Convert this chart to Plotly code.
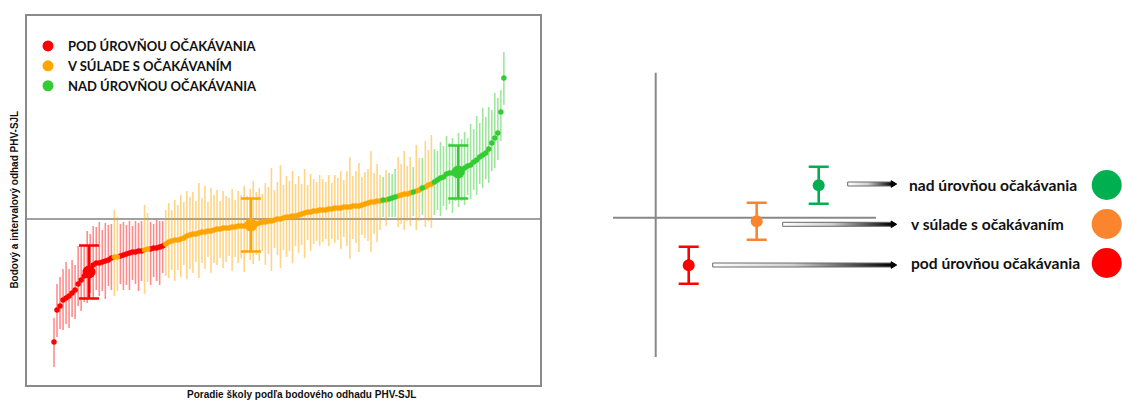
import plotly.graph_objects as go

# ---------------- data (left caterpillar chart) ----------------
rank = list(range(1, 151))
estimate = [
    -12.3, -9.1, -8.7, -8.1, -7.9, -7.7, -7.4, -7.1, -6.5, -6.1,
    -5.7, -5.4, -5.0, -4.6, -4.4, -4.4, -4.3, -4.2, -4.1, -3.9,
    -3.8, -3.8, -3.7, -3.6, -3.5, -3.4, -3.3, -3.3, -3.2, -3.2,
    -3.1, -3.0, -3.0, -2.9, -2.9, -2.8, -2.7, -2.5, -2.3, -2.2,
    -2.1, -2.1, -2.0, -1.9, -1.7, -1.6, -1.5, -1.5, -1.4, -1.3,
    -1.3, -1.2, -1.2, -1.1, -1.0, -1.0, -0.9, -0.9, -0.9, -0.8,
    -0.8, -0.7, -0.7, -0.7, -0.6, -0.6, -0.5, -0.5, -0.4, -0.3,
    -0.3, -0.2, -0.2, -0.1, 0.0, 0.0, 0.1, 0.2, 0.2, 0.3,
    0.3, 0.4, 0.5, 0.6, 0.7, 0.7, 0.8, 0.8, 0.9, 0.9,
    0.9, 1.0, 1.0, 1.1, 1.1, 1.1, 1.2, 1.2, 1.2, 1.3,
    1.3, 1.3, 1.4, 1.5, 1.6, 1.7, 1.7, 1.8, 1.8, 1.9,
    1.9, 2.0, 2.1, 2.2, 2.3, 2.4, 2.5, 2.5, 2.6, 2.7,
    2.8, 2.9, 3.1, 3.2, 3.4, 3.5, 3.7, 3.9, 4.1, 4.2,
    4.5, 4.6, 4.6, 4.6, 4.7, 4.8, 5.1, 5.3, 5.4, 5.7,
    5.9, 6.2, 6.4, 6.6, 7.0, 7.6, 8.1, 8.6, 10.7, 14.1,
]
err_up = [
    2.4, 2.6, 2.9, 3.1, 3.6, 2.7, 3.3, 2.5, 3.8, 3.4,
    3.1, 4.2, 3.5, 3.9, 3.6, 4.1, 3.2, 3.8, 3.5, 3.4,
    4.7, 4.0, 3.2, 3.3, 2.9, 3.2, 2.6, 3.1, 2.8, 3.0,
    4.5, 3.6, 2.7, 2.4, 2.8, 2.6, 2.5, 3.4, 3.9, 3.1,
    4.0, 3.5, 4.4, 3.6, 4.5, 3.8, 4.2, 3.3, 5.0, 3.4,
    4.6, 2.9, 4.3, 3.5, 3.9, 2.8, 3.7, 3.2, 3.0, 3.8,
    2.7, 3.5, 3.1, 4.0, 2.9, 3.6, 4.3, 3.2, 3.5, 2.8,
    3.9, 3.4, 5.3, 3.0, 3.7, 5.4, 3.3, 4.1, 3.6, 4.5,
    3.2, 3.9, 3.0, 4.4, 2.7, 3.8, 3.2, 2.9, 3.5, 3.1,
    2.8, 3.4, 2.6, 3.3, 3.0, 3.7, 2.7, 3.6, 5.0, 3.0,
    3.5, 4.3, 2.8, 3.2, 3.4, 5.1, 2.9, 3.7, 2.6, 2.3,
    3.0, 2.6, 2.4, 2.8, 3.9, 3.1, 4.3, 2.8, 3.6, 2.5,
    4.6, 3.2, 3.0, 4.6, 3.5, 4.9, 3.3, 2.9, 3.6, 3.1,
    3.8, 3.0, 3.5, 2.7, 3.9, 3.2, 3.6, 2.8, 4.1, 3.3,
    4.4, 3.4, 4.7, 3.6, 4.2, 3.3, 4.5, 3.5, 2.2, 2.6,
]
err_down = [
    2.5, 2.7, 2.3, 3.0, 2.6, 3.2, 2.4, 2.9, 2.2, 3.1,
    2.6, 3.0, 2.4, 3.4, 2.7, 3.3, 2.9, 3.8, 2.6, 3.2,
    3.9, 3.4, 2.8, 3.5, 3.1, 3.7, 2.8, 3.2, 4.0, 3.0,
    4.4, 3.3, 3.6, 2.9, 3.3, 3.8, 2.7, 3.2, 3.6, 2.9,
    4.1, 3.0, 3.8, 2.7, 4.3, 3.4, 3.9, 2.8, 4.5, 3.1,
    3.7, 2.6, 4.2, 3.3, 3.6, 2.9, 4.0, 3.4, 2.8, 4.4,
    3.0, 3.7, 3.2, 4.6, 2.7, 3.5, 4.0, 3.1, 3.8, 2.9,
    4.3, 3.3, 5.0, 2.8, 3.6, 4.9, 3.2, 4.0, 3.4, 4.7,
    3.0, 3.8, 3.1, 4.5, 2.8, 3.9, 3.3, 3.0, 3.6, 3.2,
    2.9, 3.7, 3.0, 3.5, 3.2, 4.1, 3.0, 3.9, 5.2, 3.3,
    3.7, 4.6, 3.0, 3.4, 3.8, 5.0, 3.2, 4.1, 2.9, 1.7,
    2.6, 1.8, 1.9, 2.0, 3.1, 2.9, 3.6, 2.7, 3.3, 2.4,
    3.9, 3.1, 2.7, 4.0, 3.6, 4.4, 3.3, 3.0, 3.8, 2.9,
    3.6, 3.1, 4.0, 2.8, 3.5, 3.0, 3.7, 2.9, 3.4, 2.8,
    3.5, 2.7, 3.3, 2.6, 3.4, 2.8, 3.0, 2.7, 2.9, 2.7,
]

cat_names = ["POD ÚROVŇOU OČAKÁVANIA", "V SÚLADE S OČAKÁVANÍM", "NAD ÚROVŇOU OČAKÁVANIA"]
cat_colors = ["#FF0000", "#FFA500", "#33CC33"]
cat_bar_colors = ["rgba(255,0,0,0.45)", "rgba(255,165,0,0.48)", "rgba(51,204,51,0.48)"]

# large illustrative point + interval per category
example_rank = [12.6, 66.2, 134.9]
example_est = [-5.3, -0.6, 4.7]
example_err = [2.65, 2.65, 2.65]

# ---------------- data (right schematic) ----------------
scheme_labels = ["nad úrovňou očakávania", "v súlade s očakávaním", "pod úrovňou očakávania"]
scheme_colors = ["#00B050", "#FA852E", "#FF0000"]
scheme_x = [16.3, 10.1, 3.3]
scheme_y = [3.25, -0.36, -4.75]
scheme_err = [1.85, 1.85, 1.85]
arrow_start = [19.2, 12.7, 5.7]
arrow_end = 24.1
arrow_y = [3.37, -0.66, -4.73]
label_x = [25.1, 25.3, 25.3]
label_y = [3.27, -0.63, -4.53]
badge_x = 45.1

# ---------------- categorise ----------------
def category(e, u, d):
    if e + u < 0:
        return 0
    if e - d > 0:
        return 2
    return 1

cats = [category(e, u, d) for e, u, d in zip(estimate, err_up, err_down)]

fig = go.Figure()

# interval lines
for c in range(3):
    xs, ys = [], []
    for r, e, u, d, k in zip(rank, estimate, err_up, err_down, cats):
        if k == c:
            xs += [r, r, None]
            ys += [e - d, e + u, None]
    fig.add_trace(go.Scatter(x=xs, y=ys, mode="lines", line=dict(color=cat_bar_colors[c], width=1.6),
                             hoverinfo="skip", showlegend=False, xaxis="x", yaxis="y"))

# point estimates
for c in range(3):
    xs = [r for r, k in zip(rank, cats) if k == c]
    ys = [e for e, k in zip(estimate, cats) if k == c]
    fig.add_trace(go.Scatter(x=xs, y=ys, mode="markers", marker=dict(color=cat_colors[c], size=5.5),
                             showlegend=False, xaxis="x", yaxis="y"))

# example markers with error bars
for c in range(3):
    fig.add_trace(go.Scatter(x=[example_rank[c]], y=[example_est[c]], mode="markers",
                             marker=dict(color=cat_colors[c], size=13),
                             error_y=dict(type="data", array=[example_err[c]], color=cat_colors[c],
                                          thickness=2.6, width=10),
                             showlegend=False, xaxis="x", yaxis="y"))

# legend entries
for c in range(3):
    fig.add_trace(go.Scatter(x=[None], y=[None], mode="markers", name="<b>" + cat_names[c] + "</b>",
                             marker=dict(color=cat_colors[c], size=11), xaxis="x", yaxis="y"))

# ---------------- schematic ----------------
for i in range(3):
    fig.add_trace(go.Scatter(x=[scheme_x[i]], y=[scheme_y[i]], mode="markers",
                             marker=dict(color=scheme_colors[i], size=12),
                             error_y=dict(type="data", array=[scheme_err[i]], color=scheme_colors[i],
                                          thickness=2.6, width=10),
                             showlegend=False, xaxis="x2", yaxis="y2", cliponaxis=False))
    s, e, y = arrow_start[i], arrow_end, arrow_y[i]
    fig.add_trace(go.Scatter(x=[s, e - 0.45, e - 0.45, s, s], y=[y - 0.2, y - 0.2, y + 0.2, y + 0.2, y - 0.2],
                             mode="lines", fill="toself",
                             fillgradient=dict(type="horizontal",
                                               colorscale=[[0, "#ffffff"], [0.45, "#d0d0d0"], [1, "#000000"]]),
                             line=dict(color="#6a6a6a", width=1), showlegend=False, hoverinfo="skip",
                             xaxis="x2", yaxis="y2", cliponaxis=False))
    fig.add_trace(go.Scatter(x=[e - 0.55, e, e - 0.55, e - 0.55], y=[y + 0.33, y, y - 0.33, y + 0.33],
                             mode="lines", fill="toself", fillcolor="#000000",
                             line=dict(color="#000000", width=1), showlegend=False, hoverinfo="skip",
                             xaxis="x2", yaxis="y2", cliponaxis=False))
    fig.add_annotation(x=label_x[i], y=label_y[i], xref="x2", yref="y2", text="<b>" + scheme_labels[i] + "</b>",
                       showarrow=False, xanchor="left", yanchor="middle",
                       font=dict(family="Lato", size=15.6, color="#111111"))

fig.add_trace(go.Scatter(x=[badge_x] * 3, y=label_y, mode="markers",
                         marker=dict(color=scheme_colors, size=30), showlegend=False,
                         xaxis="x2", yaxis="y2", cliponaxis=False))

W, H = 1122, 401
fig.update_layout(
    width=W, height=H, margin=dict(l=0, r=0, t=0, b=0),
    paper_bgcolor="white", plot_bgcolor="white",
    showlegend=True,
    legend=dict(x=28 / W, y=1 - 31 / H, xanchor="left", yanchor="top", bgcolor="rgba(0,0,0,0)",
                font=dict(family="Lato", size=13, color="#111111"), itemsizing="trace",
                tracegroupgap=0),
    xaxis=dict(domain=[26 / W, 541 / W], range=[-8.27, 162.3], showgrid=False, zeroline=False,
               showticklabels=False, ticks="", showline=False),
    yaxis=dict(domain=[(H - 386) / H, (H - 15) / H], range=[-16.7, 20.4], showgrid=False, zeroline=False,
               showticklabels=False, ticks="", showline=False),
    xaxis2=dict(domain=[600 / W, 1.0], range=[-5.57, 46.63], visible=False, anchor="y2"),
    yaxis2=dict(domain=[0, 1], range=[-18.33, 21.77], visible=False, anchor="x2"),
    shapes=[
        dict(type="rect", xref="x domain", yref="y domain", x0=0, x1=1, y0=0, y1=1,
             line=dict(color="#8a8a8a", width=2), layer="above"),
        dict(type="line", xref="x domain", yref="y", x0=0, x1=1, y0=0, y1=0,
             line=dict(color="#808080", width=1.5), layer="below"),
        dict(type="line", xref="x2", yref="y2", x0=0, x1=0, y0=14.5, y1=-13.93,
             line=dict(color="#888888", width=2), layer="below"),
        dict(type="line", xref="x2", yref="y2", x0=-4.27, x1=22.03, y0=0, y1=0,
             line=dict(color="#888888", width=2), layer="below"),
    ],
    annotations=list(fig.layout.annotations) + [
        dict(text="<b>Bodový a intervalový odhad PHV-SJL</b>", xref="paper", yref="paper",
             x=13.6 / W, y=(H - 200) / H, textangle=-90, showarrow=False, xanchor="center", yanchor="middle",
             font=dict(family="Liberation Sans", size=10, color="#111111")),
        dict(text="<b>Poradie školy podľa bodového odhadu PHV-SJL</b>", xref="paper", yref="paper",
             x=301 / W, y=(H - 394) / H, showarrow=False, xanchor="center", yanchor="middle",
             font=dict(family="Liberation Sans", size=10, color="#111111")),
    ],
)

fig.write_html("out.html")
